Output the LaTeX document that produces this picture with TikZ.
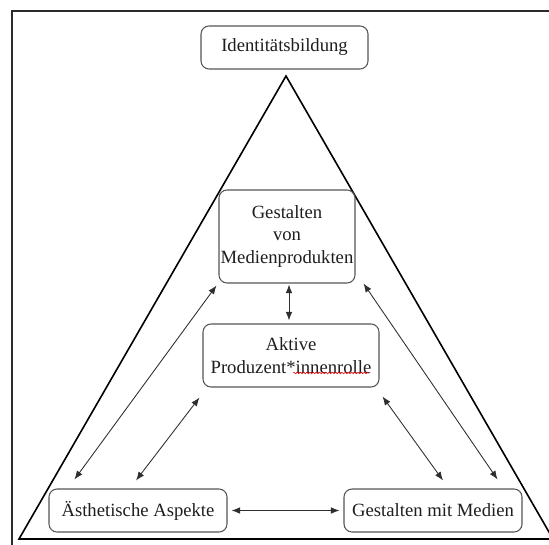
\documentclass[tikz,border=0pt]{standalone}
\usepackage{fontspec}
\setmainfont{Liberation Serif}
\usetikzlibrary{arrows.meta,calc,decorations.pathmorphing}
\definecolor{boxgray}{HTML}{555555}
\definecolor{textcol}{HTML}{1E1E1E}
\definecolor{arrcol}{HTML}{2E2E2E}
\definecolor{framecol}{HTML}{2A2A2A}
\begin{document}
\begin{tikzpicture}[x=0.75pt,y=-0.75pt,
  box/.style={draw=boxgray, line width=0.8pt, rounded corners=6pt, inner sep=0pt,
    align=center, font=\fontsize{14}{17}\selectfont, text=textcol},
  arr/.style={draw=arrcol, line width=0.65pt,
    {Latex[length=6.5pt,width=5pt]}-{Latex[length=6.5pt,width=5pt]}},
  tri/.style={draw=black, line width=1.2pt, line join=miter},
  frame/.style={draw=framecol, line width=1.8pt},
  spell/.style={draw=red, line width=0.4pt, decorate,
    decoration={snake, amplitude=0.6pt, segment length=2.4pt}}]
\useasboundingbox (0,0) rectangle (549,545);
\clip (0,0) rectangle (549,545);
\fill[white] (0,0) rectangle (549,545);
% frame
\draw[frame] (12,11) rectangle (570,570);
% triangle
\draw[tri] (286,76) -- (19,539) -- (553,539) -- cycle;
% nodes
\node[box, minimum width=125.25pt, minimum height=32.25pt] (ident) at (284.5,47.5) {Identitätsbildung};
\node[box, minimum width=102pt, minimum height=69.75pt] (gvm) at (287,236.5) {Gestalten\\von\\Medienprodukten};
\node[box, minimum width=132pt, minimum height=47.25pt] (aktiv) at (291,355.5) {Aktive\\Produzent*innenrolle};
\node[box, minimum width=133.5pt, minimum height=32.25pt] (aesth) at (138,510.5) {Ästhetische Aspekte};
\node[box, minimum width=133.5pt, minimum height=32.25pt] (gmm) at (433,510.5) {Gestalten mit Medien};
% spell-check underline
\draw[spell] (293,373) -- (369,373);
% connectors
\draw[arr] ($(gvm.south)+(2,1)$) -- ($(aktiv.north)+(-2,-3)$);
\draw[arr] ($(aesth.east)+(4,0)$) -- ($(gmm.west)+(-4,0)$);
\draw[arr] ($(aesth.north west)+(26,-9)$) -- ($(gvm.south west)+(-2,2)$);
\draw[arr] ($(aesth.north)+(-2,-8)$) -- ($(aktiv.south west)+(-3,10)$);
\draw[arr] ($(aktiv.south east)+(3,9)$) -- ($(gmm.north)+(10,-8)$);
\draw[arr] ($(gvm.south east)+(8,0)$) -- ($(gmm.north east)+(-25,-9)$);
\end{tikzpicture}
\end{document}
